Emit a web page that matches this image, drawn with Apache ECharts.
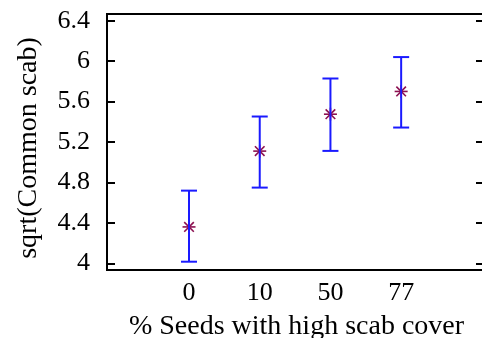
<!DOCTYPE html>
<html><head><meta charset="utf-8">
<script src="https://cdn.jsdelivr.net/npm/echarts@6/dist/echarts.min.js"></script>
<style>html,body{margin:0;padding:0;background:#fff}#c{width:482px;height:338px}</style>
</head><body><div id="c"></div>
<script>
const categories = ['0', '10', '50', '77'];
const means = [4.36, 5.11, 5.475, 5.70];
const lowers = [4.016, 4.749, 5.112, 5.343];
const uppers = [4.719, 5.452, 5.828, 6.040];
const yTicks = [4, 4.4, 4.8, 5.2, 5.6, 6, 6.4];
const xName = '% Seeds with high scab cover';
const yName = 'sqrt(Common scab)';

const font = 'Liberation Serif';
const chart = echarts.init(document.getElementById('c'), null, {renderer: 'canvas'});
const idx = categories.map((c, i) => i);

chart.setOption({
  animation: false,
  grid: {left: 107, right: -4, top: 14, bottom: 68, show: true, borderColor: '#000', borderWidth: 2, backgroundColor: 'transparent', containLabel: false, outerBoundsMode: 'none'},
  xAxis: {
    type: 'value', min: -1.16, max: 4.2,
    splitLine: {show: false},
    axisLine: {show: false, onZero: false}, axisTick: {show: false},
    axisLabel: {customValues: idx, formatter: v => categories[Math.round(v)] ?? '', color: '#000', fontFamily: font, fontSize: 26, margin: 10},
    name: xName, nameLocation: 'middle', nameGap: 43,
    nameTextStyle: {color: '#000', fontFamily: font, fontSize: 28}
  },
  yAxis: [{
    type: 'value', min: 3.934, max: 6.466, position: 'left',
    splitLine: {show: false},
    axisLine: {show: false, onZero: false},
    axisTick: {show: true, inside: true, length: 8, customValues: yTicks, lineStyle: {color: '#000', width: 2}},
    axisLabel: {customValues: yTicks, formatter: v => String(+v.toFixed(1)), color: '#000', fontFamily: font, fontSize: 26, margin: 17},
    name: yName, nameLocation: 'middle', nameGap: 64,
    nameTextStyle: {color: '#000', fontFamily: font, fontSize: 28, padding: [0, 12, 0, 0]}
  }, {
    type: 'value', min: 3.934, max: 6.466, position: 'right',
    splitLine: {show: false},
    axisLine: {show: false, onZero: false},
    axisTick: {show: true, inside: true, length: 10, customValues: yTicks, lineStyle: {color: '#000', width: 2}},
    axisLabel: {show: false}
  }],
  series: [{
    type: 'custom',
    data: idx.map(i => [i, means[i]]),
    renderItem: (params, api) => {
      const p = api.coord([api.value(0), api.value(1)]);
      const r = 6.5, d = 4.8;
      const st = {stroke: '#8c1050', lineWidth: 1.6};
      return {type: 'group', children: [
        {type: 'line', shape: {x1: p[0] - r, y1: p[1], x2: p[0] + r, y2: p[1]}, style: st},
        {type: 'line', shape: {x1: p[0], y1: p[1] - r, x2: p[0], y2: p[1] + r}, style: st},
        {type: 'line', shape: {x1: p[0] - d, y1: p[1] - d, x2: p[0] + d, y2: p[1] + d}, style: st},
        {type: 'line', shape: {x1: p[0] - d, y1: p[1] + d, x2: p[0] + d, y2: p[1] - d}, style: st}
      ]};
    },
    z: 2
  }, {
    type: 'custom',
    data: idx.map(i => [i, lowers[i], uppers[i]]),
    renderItem: (params, api) => {
      const lo = api.coord([api.value(0), api.value(1)]);
      const hi = api.coord([api.value(0), api.value(2)]);
      const w = 8;
      const st = {stroke: '#1a1aff', lineWidth: 2};
      return {type: 'group', children: [
        {type: 'line', shape: {x1: lo[0], y1: lo[1], x2: hi[0], y2: hi[1]}, style: st},
        {type: 'line', shape: {x1: lo[0] - w, y1: lo[1], x2: lo[0] + w, y2: lo[1]}, style: st},
        {type: 'line', shape: {x1: hi[0] - w, y1: hi[1], x2: hi[0] + w, y2: hi[1]}, style: st}
      ]};
    },
    z: 3
  }]
});
</script></body></html>
